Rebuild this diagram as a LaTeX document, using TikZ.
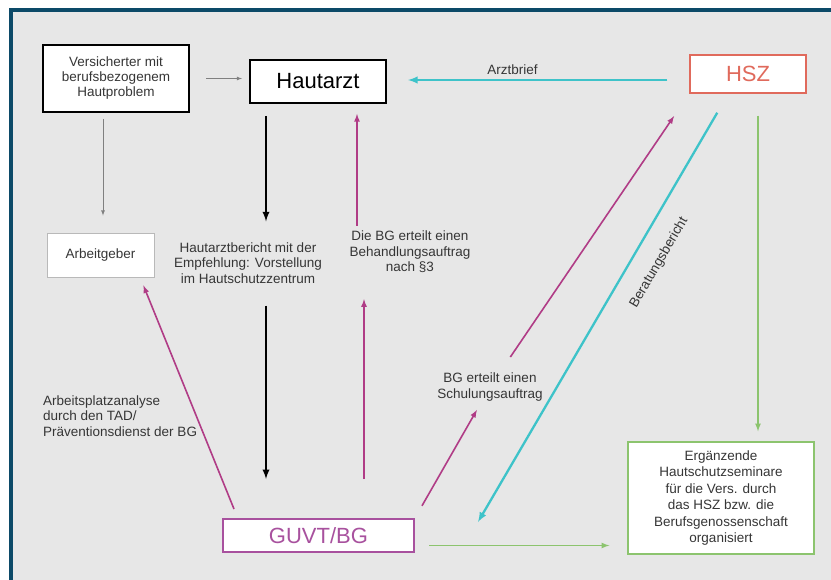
\documentclass[tikz,border=0pt]{standalone}
\usepackage{fontspec}
\setmainfont{Liberation Sans}
\usetikzlibrary{positioning}
\definecolor{framebl}{HTML}{0C4A68}
\definecolor{bggray}{HTML}{E7E7E7}
\definecolor{txtgray}{HTML}{363636}
\definecolor{hszred}{HTML}{E06A5C}
\definecolor{bgpurple}{HTML}{A8519E}
\definecolor{bgmag}{HTML}{B03C86}
\definecolor{arztcyan}{HTML}{3EC3C9}
\definecolor{semgreen}{HTML}{8CC46E}
\tikzset{>=latex}
\tikzstyle{box}    = [draw,
                      fill=white,
                      align=center,
                      inner sep=2pt,
                      text=txtgray,
                      font=\fontsize{13.5}{15}\selectfont]
\tikzstyle{bigbox} = [box,
                      font=\fontsize{22}{26}\selectfont]
\tikzstyle{note}   = [align=center,
                      inner sep=0pt,
                      text=txtgray,
                      font=\fontsize{13.5}{15.5}\selectfont]
\tikzstyle{graylink}  = [->, line width=0.8pt, draw=gray]
\tikzstyle{blacklink} = [->, line width=2.2pt, draw=black]
\tikzstyle{maglink}   = [->, line width=1.6pt, draw=bgmag]
\tikzstyle{cyanlink}  = [->, line width=2.3pt, draw=arztcyan]
\tikzstyle{greenlink} = [->, line width=1.6pt, draw=semgreen]

\begin{document}
\begin{tikzpicture}[x=1pt, y=-1pt]

  % Frame
  \useasboundingbox (0,0) rectangle (831,580);
  \fill[white] (0,0) rectangle (831,580);
  \fill[bggray] (11,10) rectangle (831,580);
  \draw[framebl, line width=3.5pt] (11,580) -- (11,10) -- (831,10);

  % Nodes
  \node[box, line width=2pt, minimum width=146, minimum height=67] (vers) at (116,78.5)
    {Versicherter mit\\berufsbezogenem\\Hautproblem};
  \node[bigbox, line width=2pt, text=black, minimum width=136, minimum height=43] (haut) at (318,81.5)
    {Hautarzt};
  \node[bigbox, draw=hszred, line width=1.5pt, text=hszred, minimum width=116, minimum height=38] (hsz) at (748,74)
    {HSZ};
  \node[box, draw=gray!55, line width=0.8pt, minimum width=107, minimum height=44] (arb) at (100.5,255)
    {Arbeitgeber};
  \node[bigbox, draw=bgpurple, line width=2pt, text=bgpurple, minimum width=191, minimum height=33] (guvt) at (318.5,535.5)
    {GUVT/BG};
  \node[box, draw=semgreen, line width=1.5pt, minimum width=186, minimum height=112,
    font=\fontsize{13.5}{16.5}\selectfont] (erg) at (721,498)
    {Ergänzende\\Hautschutzseminare\\für die Vers. durch\\das HSZ bzw. die\\Berufsgenossenschaft\\organisiert};

  \node[note] (hbericht) at (248,263) {Hautarztbericht mit der\\Empfehlung: Vorstellung\\im Hautschutzzentrum};
  \node[note] (behand) at (410,252) {Die BG erteilt einen\\Behandlungsauftrag\\nach §3};
  \node[note, align=left, anchor=west] (arbpl) at (43,416) {Arbeitsplatzanalyse\\durch den TAD/\\Präventionsdienst der BG};
  \node[note] (schul) at (490,387) {BG erteilt einen\\Schulungsauftrag};

  % Edges
  \draw[graylink, shorten <=16pt, shorten >=7pt] (vers.east) -- (vers.east -| haut.west);
  \draw[graylink, shorten <=6pt, shorten >=17pt] ([xshift=2.5pt]arb.north |- vers.south) -- ([xshift=2.5pt]arb.north);

  \draw[blacklink, shorten <=12pt, shorten >=21pt] ([xshift=17pt]haut.south west) -- ([xshift=17pt]haut.south west |- hbericht.north);
  \draw[blacklink, shorten <=22pt, shorten >=39pt] ([xshift=17pt]haut.south west |- hbericht.south) -- ([xshift=17pt]haut.south west |- guvt.north);

  \draw[maglink, shorten <=5pt, shorten >=10pt] ([xshift=108pt]haut.south west |- behand.north) -- ([xshift=108pt]haut.south west);
  \draw[maglink, shorten <=39pt, shorten >=26pt] ([xshift=115pt]haut.south west |- guvt.north) -- ([xshift=115pt]haut.south west |- behand.south);

  \draw[cyanlink, shorten <=22pt, shorten >=21pt] ([yshift=1.5pt]haut.east -| hsz.west) -- ([yshift=1.5pt]haut.east)
    node[note, pos=0.585, above=4pt] (arztbrief) {Arztbrief};

  \draw[maglink, shorten <=14pt, shorten >=10pt] (guvt.north east) -- (schul);
  \draw[maglink, shorten <=19pt, shorten >=27pt] (schul) -- (hsz.south west);

  \draw[cyanlink] ([xshift=28pt, yshift=-19pt]hsz.south west) -- ([xshift=63pt, yshift=-4pt]guvt.north east)
    node[note, sloped, pos=0.335, below=18pt] (berat) {Beratungsbericht};

  \draw[maglink] ([xshift=12pt, yshift=9pt]guvt.north west) -- ([xshift=-11pt, yshift=-8pt]arb.south east);

  \draw[greenlink, shorten <=22pt, shorten >=10pt] ([xshift=10pt]hsz.south) -- ([xshift=10pt]hsz.south |- erg.north);
  \draw[greenlink, shorten <=14pt, shorten >=18pt] ([yshift=-10pt]guvt.east) -- ([yshift=-10pt]guvt.east -| erg.west);

\end{tikzpicture}
\end{document}
